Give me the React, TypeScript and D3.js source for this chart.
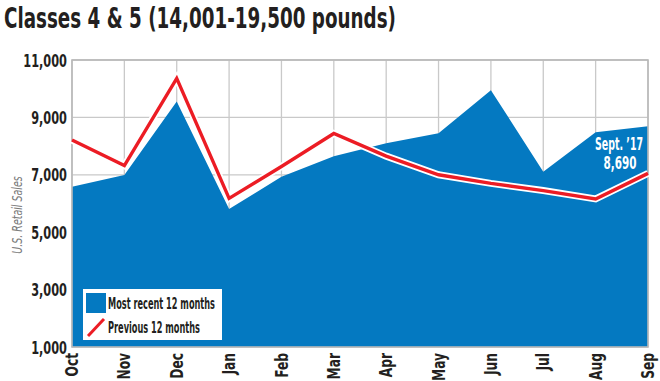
import React from "react";
import * as d3 from "d3";

const months = ["Oct", "Nov", "Dec", "Jan", "Feb", "Mar", "Apr", "May", "Jun", "Jul", "Aug", "Sep"];
const recent = [6580, 6990, 9550, 5810, 6930, 7650, 8100, 8450, 9950, 7110, 8480, 8690];
const previous = [8210, 7320, 10360, 6180, 7290, 8440, 7650, 7000, 6700, 6450, 6160, 7050];
const yTicks = [1000, 3000, 5000, 7000, 9000, 11000];

const W = 660;
const H = 381;
const left = 72, right = 648, top = 60, bottom = 347;
const FONT = "'DejaVu Sans Condensed', 'DejaVu Sans', sans-serif";
const BLUE = "#0479c1";
const RED = "#ec1c24";
const GRID = "#c9c9c9";
const INK = "#231f20";

function NText(props: {
  x: number; y: number; rotate?: number; sx: number; anchor?: string; size: number;
  weight?: string; italic?: boolean; fill?: string; dy?: string; children: React.ReactNode;
}) {
  const { x, y, rotate = 0, sx, anchor = "start", size, weight = "bold", italic, fill = INK, dy, children } = props;
  return (
    <g transform={`translate(${x},${y}) rotate(${rotate}) scale(${sx},1)`}>
      <text textAnchor={anchor} dy={dy} fontFamily={FONT} fontWeight={weight} fontStyle={italic ? "italic" : "normal"} fontSize={size} fill={fill}>
        {children}
      </text>
    </g>
  );
}

export default function App() {
  const x = d3.scalePoint<string>().domain(months).range([left, right]);
  const y = d3.scaleLinear().domain([1000, 11000]).range([bottom, top]);
  const area = d3.area<number>()
    .x((_, i) => x(months[i])!)
    .y0(bottom)
    .y1((d) => y(d));
  const line = d3.line<number>()
    .x((_, i) => x(months[i])!)
    .y((d) => y(d));
  const sepX = x("Sep")!;
  const fmt = d3.format(",");
  return (
    <svg width={W} height={H} style={{ position: "absolute", left: 0, top: 0, background: "#fff" }}>
      <text x={4} y={28} fontFamily={FONT} fontWeight="bold" fontSize={28} fill={INK} textLength={392} lengthAdjust="spacingAndGlyphs">
        Classes 4 &amp; 5 (14,001-19,500 pounds)
      </text>
      {yTicks.map((t) => (
        <line key={"gy" + t} x1={left} x2={right} y1={y(t)} y2={y(t)} stroke={GRID} strokeWidth={1.3} />
      ))}
      {months.map((m) => (
        <line key={"gx" + m} x1={x(m)} x2={x(m)} y1={top} y2={bottom} stroke={GRID} strokeWidth={1.3} />
      ))}
      <path d={area(recent)!} fill={BLUE} />
      <rect x={left} y={top} width={right - left} height={bottom - top} fill="none" stroke="#b9b9b9" strokeWidth={1.6} />
      <path d={line(previous)!} fill="none" stroke="#fff" strokeWidth={7} strokeLinejoin="miter" />
      <path d={line(previous)!} fill="none" stroke={RED} strokeWidth={3.4} strokeLinejoin="miter" />
      {yTicks.map((t) => (
        <NText key={"yt" + t} x={67} y={y(t) + 6.5} sx={0.7} anchor="end" size={18}>{fmt(t)}</NText>
      ))}
      <NText x={22} y={215} rotate={-90} sx={0.78} anchor="middle" size={13.5} weight="normal" italic fill="#7a7a7a">
        U.S. Retail Sales
      </NText>
      {months.map((m) => (
        <NText key={"xt" + m} x={x(m)!} y={353} rotate={-90} sx={0.8} anchor="end" dy="0.36em" size={17}>{m}</NText>
      ))}
      <text x={sepX - 29} y={150} textAnchor="middle" fontFamily={FONT} fontWeight="bold" fontSize={17} fill="#fff" textLength={48} lengthAdjust="spacingAndGlyphs">Sept. ’17</text>
      <text x={sepX - 28} y={169} textAnchor="middle" fontFamily={FONT} fontWeight="bold" fontSize={17} fill="#fff" textLength={33} lengthAdjust="spacingAndGlyphs">{fmt(recent[11])}</text>
      <rect x={83} y={289} width={139} height={51} fill="#fff" />
      <rect x={86} y={293} width={20} height={20} fill={BLUE} />
      <text x={108} y={309} fontFamily={FONT} fontWeight="bold" fontSize={15} fill={INK} textLength={107} lengthAdjust="spacingAndGlyphs">Most recent 12 months</text>
      <line x1={88} y1={336} x2={104} y2={319} stroke={RED} strokeWidth={3} />
      <text x={108} y={333} fontFamily={FONT} fontWeight="bold" fontSize={15} fill={INK} textLength={92} lengthAdjust="spacingAndGlyphs">Previous 12 months</text>
    </svg>
  );
}
